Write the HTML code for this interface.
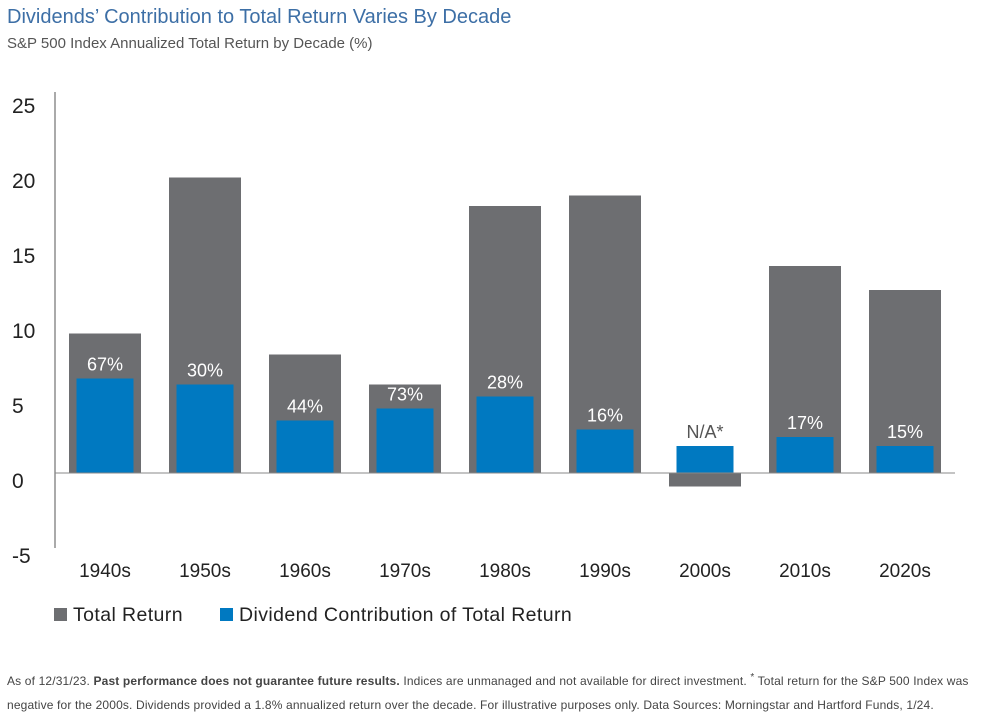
<!DOCTYPE html>
<html><head><meta charset="utf-8"><style>
body{margin:0;background:#fff;font-family:"Liberation Sans",sans-serif;}
#wrap{position:relative;width:986px;height:716px;overflow:hidden;}
.t{position:absolute;white-space:nowrap;}
</style></head><body>
<div id="wrap">
<div class="t" style="left:7px;top:6px;font-size:20px;color:#3d6fa6;">Dividends’ Contribution to Total Return Varies By Decade</div>
<div class="t" style="left:7px;top:35px;font-size:15px;color:#555;">S&amp;P 500 Index Annualized Total Return by Decade (%)</div>
<svg id="chart" width="986" height="716" style="position:absolute;left:0;top:0"></svg>
<div class="t" style="left:7px;top:666px;font-size:12px;letter-spacing:0.15px;color:#444;line-height:24px">As of 12/31/23. <b>Past performance does not guarantee future results.</b> Indices are unmanaged and not available for direct investment. <sup>*</sup> Total return for the S&amp;P 500 Index was<br>negative for the 2000s. Dividends provided a 1.8% annualized return over the decade. For illustrative purposes only. Data Sources: Morningstar and Hartford Funds, 1/24.</div>
</div>
<script>
const categories=["1940s","1950s","1960s","1970s","1980s","1990s","2000s","2010s","2020s"];
const totalReturn=[9.3,19.7,7.9,5.9,17.8,18.5,-0.9,13.8,12.2];
const dividendContribution=[6.3,5.9,3.5,4.3,5.1,2.9,1.8,2.4,1.8];
const shareLabels=["67%","30%","44%","73%","28%","16%","N/A*","17%","15%"];
const yTicks=[25,20,15,10,5,0,-5];
const NS="http://www.w3.org/2000/svg";
const svg=document.getElementById('chart');
const y=v=>473-v*15;
const x=i=>105+i*100;
function mk(t,a){const e=document.createElementNS(NS,t);for(const k in a)e.setAttribute(k,a[k]);svg.appendChild(e);return e;}
let ax=mk('line',{x1:55,x2:55,y1:y(25)-6,y2:y(-5),stroke:'#555','stroke-width':1});


yTicks.forEach(v=>{const t=mk('text',{x:12,y:y(v)+15,'font-size':21,fill:'#222','font-family':'Liberation Sans'});t.textContent=v;

});
categories.forEach((c,i)=>{
 const tv=totalReturn[i];
 const r=mk('rect',{x:x(i)-36,y:Math.min(y(tv),y(0)),width:72,height:Math.abs(y(tv)-y(0)),fill:'#6d6e71'});
 
 
 const dv=dividendContribution[i];
 const b=mk('rect',{x:x(i)-28.5,y:y(dv),width:57,height:y(0)-y(dv),fill:'#0079c1'});
 
 
 const l=mk('text',{x:x(i),y:y(dv)-8,'text-anchor':'middle','font-size':18,fill:tv<0?'#555':'#fff','font-family':'Liberation Sans'});
 l.textContent=shareLabels[i];
 
 
 const cl=mk('text',{x:x(i),y:577,'text-anchor':'middle','font-size':19,fill:'#222','font-family':'Liberation Sans'});
 cl.textContent=c;
 
 
});
let zl=mk('line',{x1:55,x2:955,y1:y(0),y2:y(0),stroke:'#888','stroke-width':1});


const legend=[["Total Return","#6d6e71",54],["Dividend Contribution of Total Return","#0079c1",220]];
legend.forEach(([n,c,lx])=>{
 const s=mk('rect',{x:lx,y:608,width:13,height:13,fill:c});
 
 
 const t=mk('text',{x:lx+19,y:621,'font-size':19.5,'letter-spacing':0.4,fill:'#222','font-family':'Liberation Sans'});
 t.textContent=n;
 
 
});
</script>
</body></html>
